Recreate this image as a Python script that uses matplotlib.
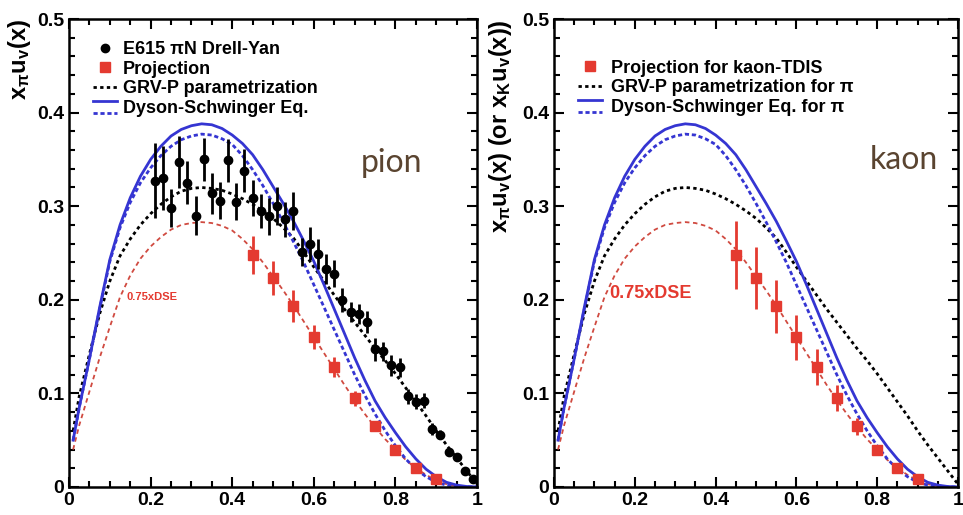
import matplotlib
matplotlib.use('Agg')
import matplotlib.pyplot as plt
from matplotlib.lines import Line2D
from matplotlib.legend_handler import HandlerBase
from matplotlib.ticker import MultipleLocator, FuncFormatter

plt.rcParams['font.family'] = ['Liberation Sans', 'DejaVu Sans']
plt.rcParams['font.weight'] = 'bold'
plt.rcParams['mathtext.fontset'] = 'custom'
plt.rcParams['mathtext.bf'] = 'Liberation Sans:bold'
plt.rcParams['mathtext.rm'] = 'Liberation Sans:bold'
plt.rcParams['mathtext.it'] = 'Liberation Sans:bold:italic'
plt.rcParams['mathtext.default'] = 'bf'

# E615 pion-N Drell-Yan data
e615_x = [0.21, 0.23, 0.25, 0.27, 0.29, 0.31, 0.33, 0.35, 0.37, 0.39,
          0.41, 0.43, 0.45, 0.47, 0.49, 0.51, 0.53, 0.55, 0.57, 0.59,
          0.61, 0.63, 0.65, 0.67, 0.69, 0.71, 0.73, 0.75, 0.77, 0.79,
          0.81, 0.83, 0.85, 0.87, 0.89, 0.91, 0.93, 0.95, 0.97, 0.99]
e615_y = [0.327, 0.330, 0.298, 0.347, 0.325, 0.290, 0.350, 0.314, 0.306, 0.349,
          0.305, 0.338, 0.309, 0.295, 0.289, 0.300, 0.286, 0.295, 0.251, 0.260,
          0.249, 0.233, 0.228, 0.200, 0.187, 0.185, 0.176, 0.147, 0.145, 0.130,
          0.128, 0.097, 0.091, 0.092, 0.062, 0.056, 0.037, 0.032, 0.017, 0.008]
e615_err = [0.040, 0.034, 0.020, 0.028, 0.023, 0.021, 0.023, 0.022, 0.020, 0.023,
            0.020, 0.023, 0.019, 0.018, 0.020, 0.020, 0.019, 0.020, 0.015, 0.018,
            0.016, 0.016, 0.014, 0.013, 0.011, 0.011, 0.012, 0.012, 0.010, 0.011,
            0.010, 0.008, 0.008, 0.008, 0.006, 0.005, 0.004, 0.004, 0.003, 0.003]

# projections
proj_x = [0.45, 0.50, 0.55, 0.60, 0.65, 0.70, 0.75, 0.80, 0.85, 0.90]
proj_y = [0.248, 0.223, 0.193, 0.160, 0.128, 0.095, 0.065, 0.040, 0.020, 0.008]
proj_err_pion = [0.020, 0.018, 0.017, 0.013, 0.011, 0.008, 0.005, 0.004, 0.003, 0.002]
proj_err_kaon = [0.036, 0.033, 0.028, 0.024, 0.019, 0.014, 0.009, 0.005, 0.003, 0.002]

# model curves
curve_x = [0.01, 0.025, 0.05, 0.075, 0.1, 0.125, 0.15, 0.175, 0.2, 0.225,
           0.25, 0.275, 0.3, 0.325, 0.35, 0.375, 0.4, 0.425, 0.45, 0.475,
           0.5, 0.525, 0.55, 0.575, 0.6, 0.625, 0.65, 0.675, 0.7, 0.725,
           0.75, 0.775, 0.8, 0.825, 0.85, 0.875, 0.9, 0.925, 0.95, 0.975, 1.0]
dse_solid = [0.050, 0.085, 0.137, 0.192, 0.243, 0.280, 0.309, 0.332, 0.350, 0.364,
             0.375, 0.382, 0.386, 0.388, 0.387, 0.383, 0.376, 0.367, 0.355, 0.339,
             0.321, 0.303, 0.284, 0.263, 0.241, 0.216, 0.190, 0.164, 0.138, 0.114,
             0.092, 0.074, 0.058, 0.043, 0.030, 0.019, 0.011, 0.005, 0.002, 0.0005, 0.0]
dse_dashed = [0.050, 0.085, 0.137, 0.190, 0.241, 0.277, 0.304, 0.325, 0.341, 0.354,
              0.364, 0.371, 0.375, 0.377, 0.376, 0.372, 0.366, 0.354, 0.339, 0.322,
              0.303, 0.283, 0.262, 0.240, 0.216, 0.192, 0.168, 0.144, 0.120, 0.098,
              0.078, 0.060, 0.044, 0.030, 0.019, 0.011, 0.005, 0.002, 0.001, 0.0002, 0.0]
grv = [0.060, 0.097, 0.142, 0.185, 0.220, 0.247, 0.265, 0.280, 0.292, 0.302,
       0.310, 0.316, 0.319, 0.320, 0.319, 0.317, 0.313, 0.308, 0.302, 0.295,
       0.287, 0.277, 0.266, 0.251, 0.235, 0.220, 0.205, 0.190, 0.176, 0.162,
       0.148, 0.135, 0.121, 0.106, 0.091, 0.076, 0.060, 0.045, 0.031, 0.017, 0.003]
dse_075 = [0.040, 0.066, 0.102, 0.138, 0.171, 0.203, 0.226, 0.244, 0.257, 0.267,
           0.275, 0.280, 0.282, 0.283, 0.282, 0.279, 0.274, 0.265, 0.254, 0.240,
           0.225, 0.210, 0.194, 0.177, 0.160, 0.143, 0.126, 0.109, 0.093, 0.078,
           0.064, 0.051, 0.040, 0.029, 0.020, 0.013, 0.007, 0.003, 0.001, 0.0002, 0.0]

BLUE = '#3535d2'
RED = '#e43a30'
RED_LINE = '#d04a40'
BROWN = '#5a4430'


class HandlerStacked(HandlerBase):
    # solid line on top, dotted line below (ROOT style double legend entry)
    def create_artists(self, legend, orig_handle, xdescent, ydescent,
                       width, height, fontsize, trans):
        arts = []
        for h, frac in zip(orig_handle, (0.95, 0.0)):
            ln = Line2D([-xdescent, width - xdescent],
                        [height * frac - ydescent] * 2)
            ln.update_from(h)
            ln.set_transform(trans)
            arts.append(ln)
        return arts


def style_axes(ax):
    ax.set_xlim(0, 1)
    ax.set_ylim(0, 0.5)
    ax.xaxis.set_major_locator(MultipleLocator(0.2))
    ax.xaxis.set_minor_locator(MultipleLocator(0.05))
    ax.yaxis.set_major_locator(MultipleLocator(0.1))
    ax.yaxis.set_minor_locator(MultipleLocator(0.02))
    fmt = FuncFormatter(lambda v, p: '%g' % round(v, 2))
    ax.xaxis.set_major_formatter(fmt)
    ax.yaxis.set_major_formatter(fmt)
    ax.tick_params(which='both', direction='in', top=True, right=True,
                   width=1.5, labelsize=14)
    ax.tick_params(which='major', length=7)
    ax.tick_params(which='minor', length=4)
    for s in ax.spines.values():
        s.set_linewidth(1.8)


def draw_curves(ax):
    ax.plot(curve_x, dse_075, color=RED_LINE, lw=1.3, ls=(0, (2.5, 2)))
    ax.plot(curve_x, grv, color='black', lw=2, ls=(0, (1.2, 1.2)))
    ax.plot(curve_x, dse_dashed, color=BLUE, lw=2, ls=(0, (1.5, 1)))
    ax.plot(curve_x, dse_solid, color=BLUE, lw=2)


fig = plt.figure(figsize=(9.63, 5.15), dpi=100)
ax1 = fig.add_axes([0.0717, 0.0544, 0.4237, 0.9087])
ax2 = fig.add_axes([0.5753, 0.0544, 0.4195, 0.9087])

legend_kw = dict(handler_map={tuple: HandlerStacked()}, loc='upper left',
                 frameon=False, fontsize=13, borderpad=0, borderaxespad=0,
                 labelspacing=0.15, handlelength=1.35)

# ---- pion panel
draw_curves(ax1)
ax1.errorbar(e615_x, e615_y, yerr=e615_err, fmt='o', color='black', ms=6,
             elinewidth=2, capsize=0)
ax1.errorbar(proj_x, proj_y, yerr=proj_err_pion, fmt='s', color=RED, ms=6.5,
             elinewidth=2, capsize=0)
style_axes(ax1)
ax1.set_ylabel('$x_{π}u_{v}(x)$', fontsize=17, loc='top')
ax1.yaxis.set_label_coords(-0.088, 1.0)
ax1.text(0.79, 0.346, 'pion', fontsize=23, family='Lato', weight='normal',
         color=BROWN, ha='center', va='center')
ax1.text(0.203, 0.203, '0.75xDSE', fontsize=8, color=RED,
         ha='center', va='center')

h_e615 = Line2D([], [], marker='o', color='black', ls='none', ms=6)
h_proj = Line2D([], [], marker='s', color=RED, ls='none', ms=6.5)
h_grv = Line2D([], [], color='black', lw=2, ls=(0, (1.2, 1.2)))
h_dse = (Line2D([], [], color=BLUE, lw=2),
         Line2D([], [], color=BLUE, lw=2, ls=(0, (1.5, 1))))
ax1.legend([h_e615, h_proj, h_grv, h_dse],
           ['E615 πN Drell-Yan', 'Projection', 'GRV-P parametrization',
            'Dyson-Schwinger Eq.'],
           bbox_to_anchor=(0.059, 0.953), handletextpad=0.3, **legend_kw)

# ---- kaon panel
draw_curves(ax2)
ax2.errorbar(proj_x, proj_y, yerr=proj_err_kaon, fmt='s', color=RED, ms=6.5,
             elinewidth=2, capsize=0)
style_axes(ax2)
ax2.set_ylabel(r'$x_{π}u_{v}(x)\ (or\ x_{K}u_{v}(x))$', fontsize=17, loc='top')
ax2.yaxis.set_label_coords(-0.10, 1.0)
ax2.text(0.867, 0.349, 'kaon', fontsize=23, family='Lato', weight='normal',
         color=BROWN, ha='center', va='center')
ax2.text(0.24, 0.207, '0.75xDSE', fontsize=13, color=RED,
         ha='center', va='center')

ax2.legend([h_proj, h_grv, h_dse],
           ['Projection for kaon-TDIS', 'GRV-P parametrization for π',
            'Dyson-Schwinger Eq. for π'],
           bbox_to_anchor=(0.059, 0.913), handletextpad=0.5, **legend_kw)

fig.savefig('out.png', dpi=100)
